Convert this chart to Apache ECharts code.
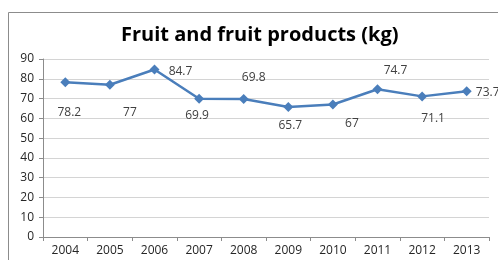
<!DOCTYPE html>
<html>
<head>
<meta charset="utf-8">
<script src="https://cdn.jsdelivr.net/npm/echarts@6/dist/echarts.min.js"></script>
<style>
html,body{margin:0;padding:0;background:#fff;}
#c{width:498px;height:260px;}
</style>
</head>
<body>
<div id="c"></div>
<script>
var titleText = 'Fruit and fruit products (kg)';
var years = ['2004','2005','2006','2007','2008','2009','2010','2011','2012','2013'];
var values = [78.2, 77, 84.7, 69.9, 69.8, 65.7, 67, 74.7, 71.1, 73.7];
var yMin = 0, yMax = 90, yStep = 10;
// label offsets (style only): [dx, dy] from marker centre
var labelOffsets = [[4,30],[20,28],[26,2],[-2,17],[10,-21],[2,19],[19,19],[18,-19],[11,22],[21,1]];

var chart = echarts.init(document.getElementById('c'), null, {renderer:'canvas'});
var fontFam = '"Open Sans", "Liberation Sans", sans-serif';
var dataItems = values.map(function(v,i){
  return {value:v, label:{show:true, position:'inside', offset:labelOffsets[i]}};
});
chart.setOption({
  animation:false,
  backgroundColor:'#fff',
  title:{
    text:titleText, left:116, top:20,
    textStyle:{fontFamily:fontFam, fontWeight:'bold', fontSize:20, color:'#000'}
  },
  graphic:[{
    type:'rect', shape:{x:8.5,y:12.5,width:520,height:300},
    style:{fill:'none', stroke:'#8c8c8c', lineWidth:1}, silent:true, z:-1
  }],
  grid:{left:43, right:9, top:59, bottom:23, containLabel:false},
  xAxis:{
    type:'category', data:years, boundaryGap:true,
    axisLine:{lineStyle:{color:'#8c8c8c'}},
    axisTick:{show:true, length:4, alignWithLabel:false, lineStyle:{color:'#8c8c8c'}},
    axisLabel:{fontFamily:fontFam, fontSize:12, color:'#262626', margin:8}
  },
  yAxis:{
    type:'value', min:yMin, max:yMax, interval:yStep,
    axisLine:{show:true, lineStyle:{color:'#8c8c8c'}},
    axisTick:{show:true, length:4, lineStyle:{color:'#8c8c8c'}},
    splitLine:{lineStyle:{color:'#d4d4d4'}},
    axisLabel:{fontFamily:fontFam, fontSize:12, color:'#262626', margin:9}
  },
  series:[{
    type:'line', data:dataItems,
    symbol:'diamond', symbolSize:10,
    lineStyle:{color:'#4a7ebb', width:2.5},
    itemStyle:{color:'#4a7ebb'},
    label:{fontFamily:fontFam, fontSize:12, color:'#404040'}
  }]
});
</script>
</body>
</html>
